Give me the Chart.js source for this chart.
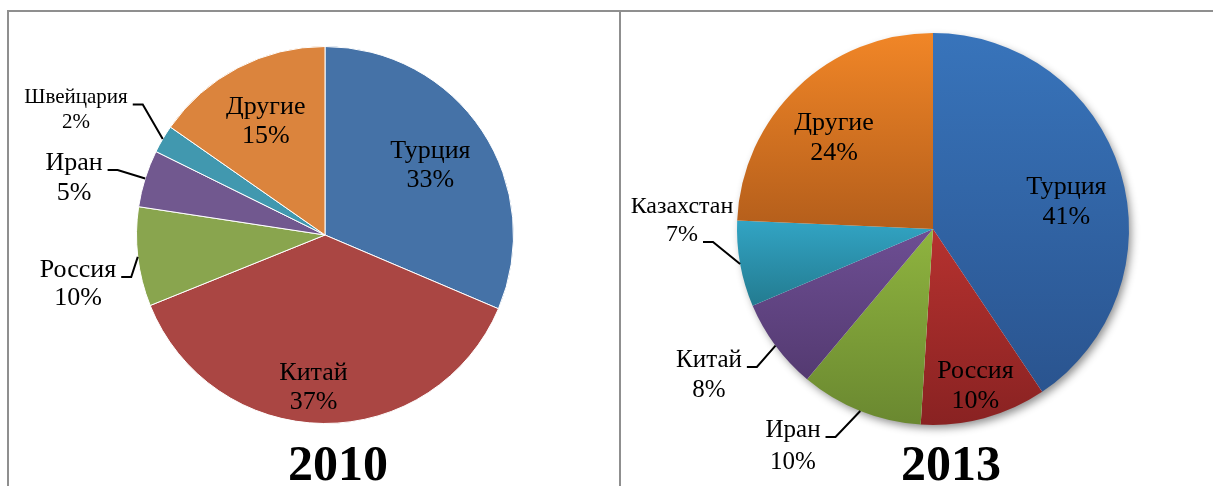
<!DOCTYPE html>
<html>
<head>
<meta charset="utf-8">
<script src="https://cdn.jsdelivr.net/npm/chart.js@4.4.0/dist/chart.umd.min.js"></script>
<style>
  body { margin: 0; background: #fff; width: 1213px; height: 486px; overflow: hidden; position: relative; }
  .panel { position: absolute; top: 10px; height: 476px; border-left: 2px solid #8f8f8f; border-top: 2px solid #8f8f8f; box-sizing: border-box; }
  canvas { position: absolute; }
  .year { position: absolute; width: 200px; text-align: center; font: bold 50px "Liberation Serif", serif; line-height: 50px; color: #000; }
</style>
</head>
<body>
<div class="panel" style="left:7px;width:613px"></div>
<div class="panel" style="left:619px;width:594px"></div>
<canvas id="pie-2010" width="612" height="476" style="left:8px;top:10px"></canvas>
<canvas id="pie-2013" width="593" height="476" style="left:620px;top:10px"></canvas>
<div class="year" style="left:238px;top:438px">2010</div>
<div class="year" style="left:851px;top:438px">2013</div>
<script>
// 2010
const countries2010 = ['Турция', 'Китай', 'Россия', 'Иран', 'Швейцария', 'Другие'];
const shares2010 = [31.4, 37.5, 8.5, 4.9, 2.4, 15.3];
const pctLabels2010 = ['33%', '37%', '10%', '5%', '2%', '15%'];

// 2013
const countries2013 = ['Турция', 'Россия', 'Иран', 'Китай', 'Казахстан', 'Другие'];
const shares2013 = [40.6, 10.4, 10.1, 7.5, 7.1, 24.3];
const pctLabels2013 = ['41%', '10%', '10%', '8%', '7%', '24%'];

const colors2010 = ['#4572a7', '#aa4643', '#89a54e', '#71588f', '#4198af', '#db843d'];
const colorsTop2013 = ['#3874bb', '#b6322f', '#8fb43f', '#6d4e93', '#32a4c4', '#f18627'];
const colorsBottom2013 = ['#2a548f', '#892222', '#6a8830', '#543a71', '#237b90', '#b45e1b'];

const FONT = '"Liberation Serif", serif';

// label placement: 'in' = inside the slice, 'out' = beside the pie with a leader line
const layout2010 = [
  { type: 'in', f: 0.67, size: 26, lh: 29 },
  { type: 'in', f: 0.81, dx: -10, size: 26, lh: 29 },
  { type: 'out', dx: -247, dy: 49, size: 26, lh: 28, attach: 0 },
  { type: 'out', dx: -251, dy: -57, size: 26, lh: 30, attach: 0 },
  { type: 'out', dx: -249, dy: -125, size: 21, lh: 25, attach: 0 },
  { type: 'in', f: 0.68, size: 26, lh: 29 }
];
const layout2013 = [
  { type: 'in', f: 0.69, dx: 4, dy: 13, size: 26, lh: 30 },
  { type: 'in', f: 0.83, size: 26, lh: 30 },
  { type: 'out', dx: -140, dy: 217, size: 25, lh: 32, attach: 0 },
  { type: 'out', dx: -224, dy: 146, size: 25, lh: 30, attach: 0 },
  { type: 'out', dx: -251, dy: -8, size: 24, lh: 28, attach: 1 },
  { type: 'in', f: 0.686, dx: -6, dy: 6, size: 26, lh: 30 }
];

const sliceLabels = (names, pcts, layout) => ({
  id: 'sliceLabels',
  afterDraw(chart) {
    const ctx = chart.ctx;
    const arcs = chart.getDatasetMeta(0).data;
    ctx.save();
    ctx.fillStyle = '#000';
    ctx.strokeStyle = '#000';
    ctx.lineWidth = 2;
    ctx.textAlign = 'center';
    ctx.textBaseline = 'middle';
    arcs.forEach((arc, i) => {
      const { x, y, startAngle, endAngle, outerRadius } = arc.getProps(['x', 'y', 'startAngle', 'endAngle', 'outerRadius'], true);
      const mid = (startAngle + endAngle) / 2;
      const L = layout[i];
      ctx.font = `${L.size}px ${FONT}`;
      let bx, by;
      if (L.type === 'in') {
        bx = x + Math.cos(mid) * outerRadius * L.f + (L.dx || 0);
        by = y + Math.sin(mid) * outerRadius * L.f + (L.dy || 0);
      } else {
        bx = x + L.dx;
        by = y + L.dy;
      }
      const lines = [names[i], pcts[i]];
      lines.forEach((t, k) => ctx.fillText(t, bx, by + (k - 0.5) * L.lh));
      if (L.type === 'out') {
        const w = ctx.measureText(lines[L.attach]).width;
        const ly = by + (L.attach - 0.5) * L.lh + 7;
        const x0 = bx + w / 2 + 5;
        const x1 = x0 + 10;
        ctx.beginPath();
        ctx.moveTo(x0, ly);
        ctx.lineTo(x1, ly);
        ctx.lineTo(x + Math.cos(mid) * outerRadius, y + Math.sin(mid) * outerRadius);
        ctx.stroke();
      }
    });
    ctx.restore();
  }
});

// soft drop shadow under the whole 2013 pie
const pieShadow = {
  id: 'pieShadow',
  beforeDatasetsDraw(chart) {
    const arc = chart.getDatasetMeta(0).data[0];
    if (!arc) return;
    const { x, y, outerRadius } = arc.getProps(['x', 'y', 'outerRadius'], true);
    const ctx = chart.ctx;
    ctx.save();
    ctx.shadowColor = 'rgba(0,0,0,0.45)';
    ctx.shadowBlur = 9;
    ctx.shadowOffsetX = 3;
    ctx.shadowOffsetY = 4;
    ctx.fillStyle = '#fff';
    ctx.beginPath();
    ctx.arc(x, y, outerRadius - 1, 0, Math.PI * 2);
    ctx.fill();
    ctx.restore();
  }
};

// vertical gradient over each slice's own bounding box
const sliceGradient = (c) => {
  const i = c.dataIndex;
  const area = c.chart.chartArea;
  if (!area) return colorsTop2013[i];
  const cx = (area.left + area.right) / 2;
  const cy = (area.top + area.bottom) / 2;
  const r = Math.min(area.right - area.left, area.bottom - area.top) / 2;
  const total = shares2013.reduce((a, b) => a + b, 0);
  const before = shares2013.slice(0, i).reduce((a, b) => a + b, 0);
  const t0 = before / total * Math.PI * 2;
  const t1 = (before + shares2013[i]) / total * Math.PI * 2;
  const ys = [cy, cy - r * Math.cos(t0), cy - r * Math.cos(t1)];
  if (t0 <= 1e-6 || t1 >= Math.PI * 2 - 1e-6) ys.push(cy - r);
  if (t0 <= Math.PI && t1 >= Math.PI) ys.push(cy + r);
  const g = c.chart.ctx.createLinearGradient(0, Math.min(...ys), 0, Math.max(...ys));
  g.addColorStop(0, colorsTop2013[i]);
  g.addColorStop(1, colorsBottom2013[i]);
  return g;
};

const makePie = (id, labels, data, bg, border, padding, plugins) => {
  new Chart(document.getElementById(id), {
    type: 'pie',
    data: {
      labels,
      datasets: [{ data, backgroundColor: bg, borderColor: '#ffffff', borderWidth: border }]
    },
    options: {
      responsive: false,
      animation: false,
      devicePixelRatio: 1,
      layout: { padding },
      plugins: { legend: { display: false }, tooltip: { enabled: false } }
    },
    plugins
  });
};

makePie('pie-2010', countries2010, shares2010, colors2010, 1,
  { left: 128, top: 36, right: 106, bottom: 62 },
  [sliceLabels(countries2010, pctLabels2010, layout2010)]);

makePie('pie-2013', countries2013, shares2013, sliceGradient, 0,
  { left: 117, top: 23, right: 84, bottom: 61 },
  [pieShadow, sliceLabels(countries2013, pctLabels2013, layout2013)]);
</script>
</body>
</html>
